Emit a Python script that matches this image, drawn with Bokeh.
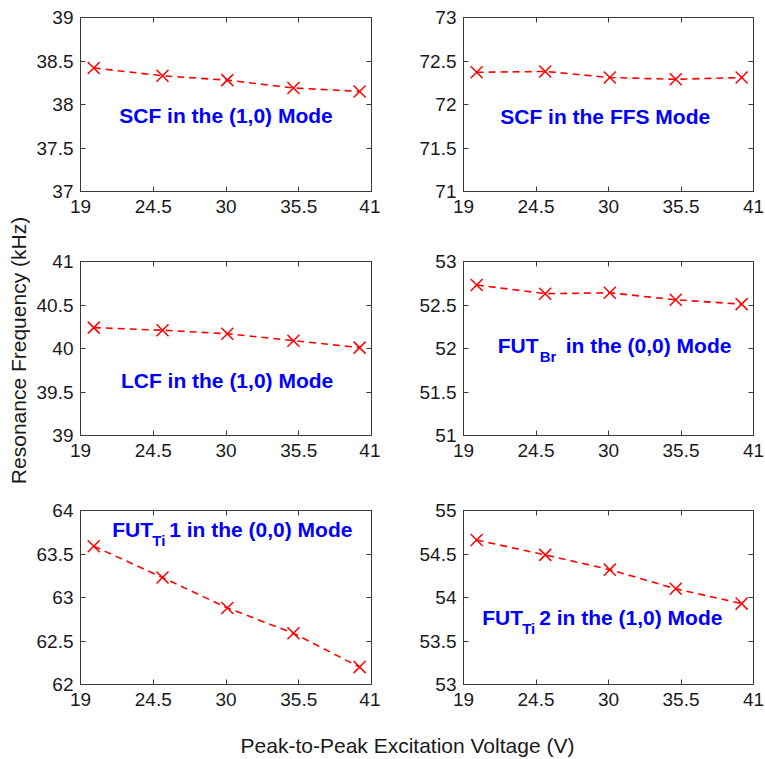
import math
from bokeh.plotting import figure
from bokeh.layouts import column, row
from bokeh.models import Range1d, FixedTicker, LinearAxis, Label
from bokeh.embed import file_html
from bokeh.resources import INLINE

# ---------------- data ----------------
voltage = [20, 25.2, 30.1, 35.1, 40.1]
scf_10 = [38.42, 38.33, 38.28, 38.19, 38.15]
scf_ffs = [72.37, 72.38, 72.31, 72.29, 72.31]
lcf_10 = [40.24, 40.21, 40.17, 40.09, 40.01]
fut_br_00 = [52.73, 52.63, 52.64, 52.56, 52.51]
fut_ti1_00 = [63.59, 63.23, 62.88, 62.59, 62.20]
fut_ti2_10 = [54.66, 54.49, 54.32, 54.10, 53.93]

x_ticks = [19, 24.5, 30, 35.5, 41]
x_tick_labels = ["19", "24.5", "30", "35.5", "41"]

y_ticks_scf10 = [37, 37.5, 38, 38.5, 39]
y_labels_scf10 = ["37", "37.5", "38", "38.5", "39"]
y_ticks_ffs = [71, 71.5, 72, 72.5, 73]
y_labels_ffs = ["71", "71.5", "72", "72.5", "73"]
y_ticks_lcf = [39, 39.5, 40, 40.5, 41]
y_labels_lcf = ["39", "39.5", "40", "40.5", "41"]
y_ticks_br = [51, 51.5, 52, 52.5, 53]
y_labels_br = ["51", "51.5", "52", "52.5", "53"]
y_ticks_ti1 = [62, 62.5, 63, 63.5, 64]
y_labels_ti1 = ["62", "62.5", "63", "63.5", "64"]
y_ticks_ti2 = [53, 53.5, 54, 54.5, 55]
y_labels_ti2 = ["53", "53.5", "54", "54.5", "55"]

y_label = "Resonance Frequency (kHz)"
x_label = "Peak-to-Peak Excitation Voltage (V)"

FONT = "Liberation Sans"
BOX = "#3a3a3a"
TXT = "#1a1a1a"
BLUE = "#0000ff"
RED = "#ff0000"


def make_panel(width, height, borders, yvals, yticks, ylabels):
    bl, br, bt, bb = borders
    p = figure(width=width, height=height, output_backend="svg", toolbar_location=None,
               x_range=Range1d(x_ticks[0], x_ticks[-1]),
               y_range=Range1d(yticks[0], yticks[-1]),
               min_border_left=bl, min_border_right=br,
               min_border_top=bt, min_border_bottom=bb)
    p.grid.visible = False
    p.outline_line_color = BOX
    p.outline_line_width = 1
    p.background_fill_color = "white"
    p.border_fill_color = "white"

    xt = FixedTicker(ticks=x_ticks)
    yt = FixedTicker(ticks=yticks)
    xa = p.xaxis[0]
    ya = p.yaxis[0]
    xa.ticker = xt
    ya.ticker = yt
    xa.major_label_overrides = {float(t): s for t, s in zip(x_ticks, x_tick_labels)}
    ya.major_label_overrides = {float(t): s for t, s in zip(yticks, ylabels)}
    for ax in (xa, ya):
        ax.major_tick_in = 5
        ax.major_tick_out = 0
        ax.minor_tick_line_color = None
        ax.axis_line_color = BOX
        ax.major_tick_line_color = BOX
        ax.major_label_text_font = FONT
        ax.major_label_text_font_size = "19px"
        ax.major_label_text_color = TXT
    xa.major_label_standoff = 8
    ya.major_label_standoff = 7

    # mirrored ticks on top and right (labels not drawn)
    for loc, tk in (("above", xt), ("right", yt)):
        ax = LinearAxis(ticker=tk, major_tick_in=5, major_tick_out=0,
                        minor_tick_line_color=None, axis_line_color=BOX,
                        major_tick_line_color=BOX, major_label_standoff=0,
                        major_label_text_font_size="1px",
                        major_label_text_color=None)
        p.add_layout(ax, loc)

    p.line(voltage, yvals, line_color=RED, line_width=1.6, line_dash="7 5")
    p.scatter(voltage, yvals, marker="x", size=17, line_color=RED, line_width=1.5)
    return p


def add_text(p, x, y, parts):
    # parts: list of (text, x_offset, y_offset, size)
    for txt, dx, dy, size in parts:
        p.add_layout(Label(x=x, y=y, x_offset=dx, y_offset=dy, text=txt,
                           text_font=FONT, text_font_size=size,
                           text_font_style="bold", text_color=BLUE,
                           text_align="left", text_baseline="middle"))


def add_center_text(p, x, y, txt):
    p.add_layout(Label(x=x, y=y, text=txt, text_font=FONT, text_font_size="21px",
                       text_font_style="bold", text_color=BLUE,
                       text_align="center", text_baseline="middle"))


STRIP_W = 30
L = (380 - STRIP_W, (80 - STRIP_W, 9))
R = (385, (83, 12))
rows_h = [(240, 17, 49), (248, 21, 53), (232, 22, 36)]

p1 = make_panel(L[0], rows_h[0][0], (L[1][0], L[1][1], rows_h[0][1], rows_h[0][2]),
                scf_10, y_ticks_scf10, y_labels_scf10)
add_center_text(p1, 30.0, 37.87, "SCF in the (1,0) Mode")

p2 = make_panel(R[0], rows_h[0][0], (R[1][0], R[1][1], rows_h[0][1], rows_h[0][2]),
                scf_ffs, y_ticks_ffs, y_labels_ffs)
add_center_text(p2, 29.75, 71.86, "SCF in the FFS Mode")

p3 = make_panel(L[0], rows_h[1][0], (L[1][0], L[1][1], rows_h[1][1], rows_h[1][2]),
                lcf_10, y_ticks_lcf, y_labels_lcf)
add_center_text(p3, 30.08, 39.63, "LCF in the (1,0) Mode")

p4 = make_panel(R[0], rows_h[1][0], (R[1][0], R[1][1], rows_h[1][1], rows_h[1][2]),
                fut_br_00, y_ticks_br, y_labels_br)
add_text(p4, 21.6, 52.04, [("FUT", 0, 0, "21px"), ("Br", 42, -11, "15px"),
                           ("in the (0,0) Mode", 68, 0, "21px")])

p5 = make_panel(L[0], rows_h[2][0], (L[1][0], L[1][1], rows_h[2][1], rows_h[2][2]),
                fut_ti1_00, y_ticks_ti1, y_labels_ti1)
add_text(p5, 21.4, 63.78, [("FUT", 0, 0, "21px"), ("Ti", 40, -11, "15px"),
                           ("1 in the (0,0) Mode", 57, 0, "21px")])

p6 = make_panel(R[0], rows_h[2][0], (R[1][0], R[1][1], rows_h[2][1], rows_h[2][2]),
                fut_ti2_10, y_ticks_ti2, y_labels_ti2)
add_text(p6, 20.42, 53.77, [("FUT", 0, 0, "21px"), ("Ti", 40, -11, "15px"),
                            ("2 in the (1,0) Mode", 57, 0, "21px")])

GRID_H = sum(h for h, _, _ in rows_h)

# left strip with the shared y-axis label
py = figure(width=STRIP_W, height=GRID_H, output_backend="svg", toolbar_location=None,
            x_range=Range1d(0, STRIP_W), y_range=Range1d(0, GRID_H),
            min_border=0, min_border_left=0, min_border_right=0,
            min_border_top=0, min_border_bottom=0)
py.axis.visible = False
py.grid.visible = False
py.outline_line_color = None
py.add_layout(Label(x=18, y=GRID_H - 350, text=y_label, text_font=FONT,
                    text_font_size="21px", text_color=TXT, angle=math.pi / 2,
                    text_align="center", text_baseline="middle"))

# bottom strip with the shared x-axis label
pl = figure(width=765, height=759 - GRID_H, output_backend="svg", toolbar_location=None,
            x_range=Range1d(0, 765), y_range=Range1d(0, 759 - GRID_H),
            min_border=0, min_border_left=0, min_border_right=0,
            min_border_top=0, min_border_bottom=0)
pl.axis.visible = False
pl.grid.visible = False
pl.outline_line_color = None
pl.add_layout(Label(x=407, y=14, text=x_label, text_font=FONT, text_font_size="21px",
                    text_color=TXT, text_align="center", text_baseline="middle"))

grid = column(row(p1, p2), row(p3, p4), row(p5, p6))
layout = column(row(py, grid), pl)

open("out.html", "w").write(file_html(layout, INLINE))
